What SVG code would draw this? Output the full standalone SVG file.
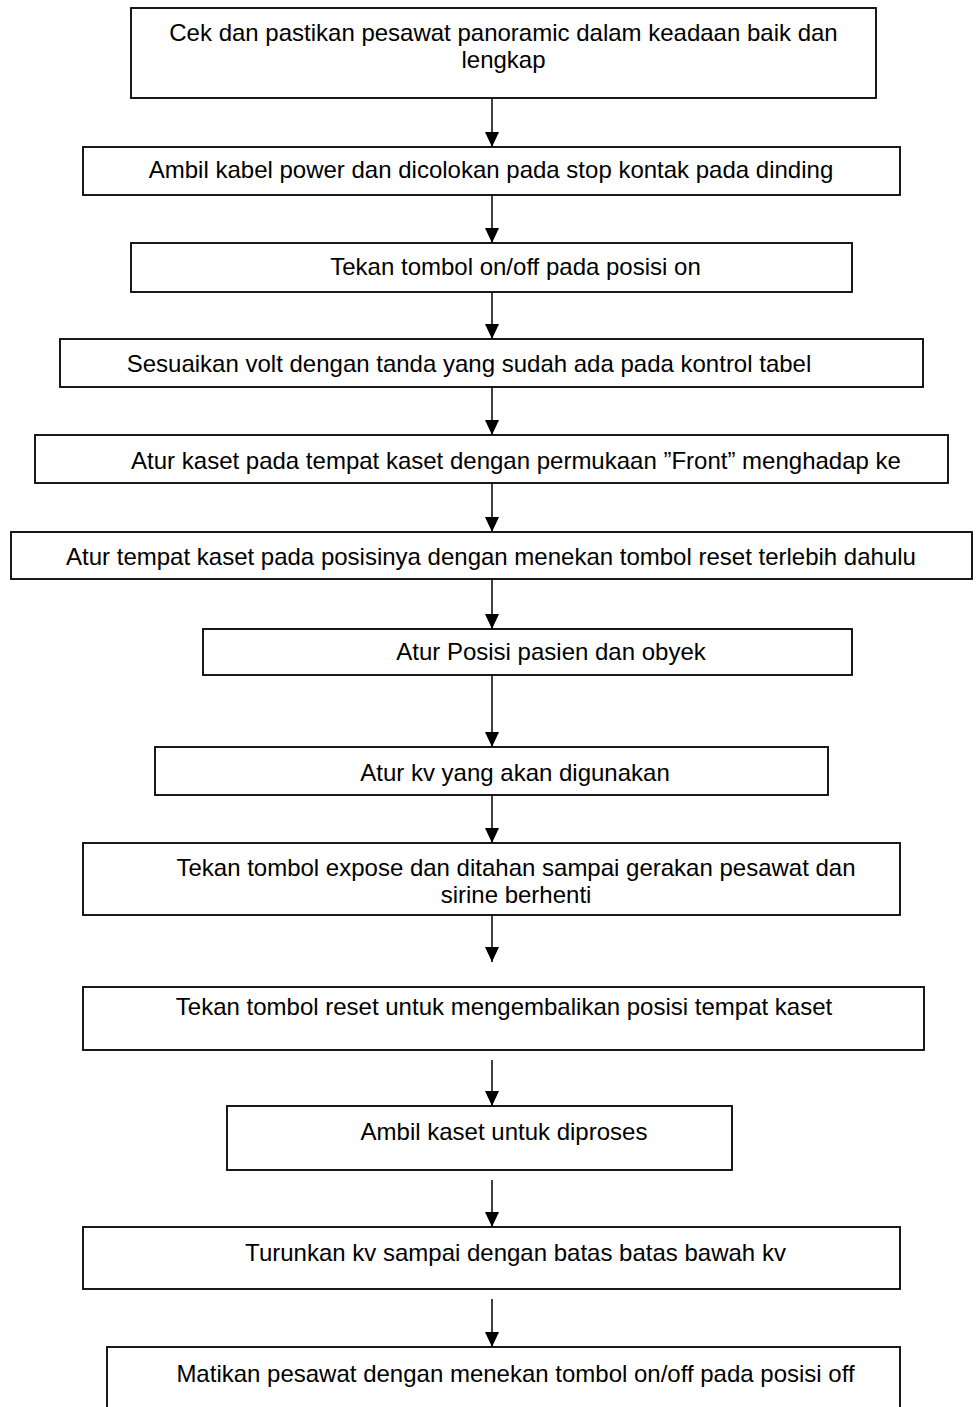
<svg xmlns="http://www.w3.org/2000/svg" width="977" height="1407" viewBox="0 0 977 1407">
<style>
.box{fill:#fff;stroke:#000;stroke-width:1.8}
.t{font-family:"Liberation Sans",Arial,sans-serif;font-size:24px;fill:#000;text-anchor:middle}
.c{stroke:#000;stroke-width:1.5;fill:none;marker-end:url(#ah)}
</style>
<defs>
<marker id="ah" markerUnits="userSpaceOnUse" viewBox="0 0 15 14" refX="15" refY="7" markerWidth="15" markerHeight="14" orient="auto">
<path d="M0,0 L15,7 L0,14 z" fill="#000"/>
</marker>
</defs>
<rect width="977" height="1407" fill="#fff"/>
<g id="connectors">
<line class="c" x1="492" y1="98" x2="492" y2="147"/>
<line class="c" x1="492" y1="195" x2="492" y2="243"/>
<line class="c" x1="492" y1="292" x2="492" y2="339"/>
<line class="c" x1="492" y1="387" x2="492" y2="435"/>
<line class="c" x1="492" y1="483" x2="492" y2="532"/>
<line class="c" x1="492" y1="579" x2="492" y2="629"/>
<line class="c" x1="492" y1="675" x2="492" y2="747"/>
<line class="c" x1="492" y1="795" x2="492" y2="843"/>
<line class="c" x1="492" y1="915" x2="492" y2="962"/>
<line class="c" x1="492" y1="1060" x2="492" y2="1106"/>
<line class="c" x1="492" y1="1180" x2="492" y2="1227"/>
<line class="c" x1="492" y1="1299" x2="492" y2="1347"/>
</g>
<g id="n1"><rect class="box" x="131" y="8" width="745" height="90"/><text class="t" x="503.5" y="41">Cek dan pastikan pesawat panoramic dalam keadaan baik dan</text><text class="t" x="503.5" y="68">lengkap</text></g>
<g id="n2"><rect class="box" x="83" y="147" width="817" height="48"/><text class="t" x="491" y="178">Ambil kabel power dan dicolokan pada stop kontak pada dinding</text></g>
<g id="n3"><rect class="box" x="131" y="243" width="721" height="49"/><text class="t" x="515.5" y="275">Tekan tombol on/off pada posisi on</text></g>
<g id="n4"><rect class="box" x="60" y="339" width="863" height="48"/><text class="t" x="469" y="372">Sesuaikan volt dengan tanda yang sudah ada pada kontrol tabel</text></g>
<g id="n5"><rect class="box" x="35" y="435" width="913" height="48"/><text class="t" x="516" y="469">Atur kaset pada tempat kaset dengan permukaan ”Front” menghadap ke</text></g>
<g id="n6"><rect class="box" x="11" y="532" width="961" height="47"/><text class="t" x="491" y="565">Atur tempat kaset pada posisinya dengan menekan tombol reset terlebih dahulu</text></g>
<g id="n7"><rect class="box" x="203" y="629" width="649" height="46"/><text class="t" x="551" y="660">Atur Posisi pasien dan obyek</text></g>
<g id="n8"><rect class="box" x="155" y="747" width="673" height="48"/><text class="t" x="515" y="781">Atur kv yang akan digunakan</text></g>
<g id="n9"><rect class="box" x="83" y="843" width="817" height="72"/><text class="t" x="516" y="876">Tekan tombol expose dan ditahan sampai gerakan pesawat dan</text><text class="t" x="516" y="903">sirine berhenti</text></g>
<g id="n10"><rect class="box" x="83" y="987" width="841" height="63"/><text class="t" x="504" y="1015">Tekan tombol reset untuk mengembalikan posisi tempat kaset</text></g>
<g id="n11"><rect class="box" x="227" y="1106" width="505" height="64"/><text class="t" x="504" y="1140">Ambil kaset untuk diproses</text></g>
<g id="n12"><rect class="box" x="83" y="1227" width="817" height="62"/><text class="t" x="515.5" y="1261">Turunkan kv sampai dengan batas batas bawah kv</text></g>
<g id="n13"><rect class="box" x="107" y="1347" width="793" height="80"/><text class="t" x="515.5" y="1382">Matikan pesawat dengan menekan tombol on/off pada posisi off</text></g>
</svg>
